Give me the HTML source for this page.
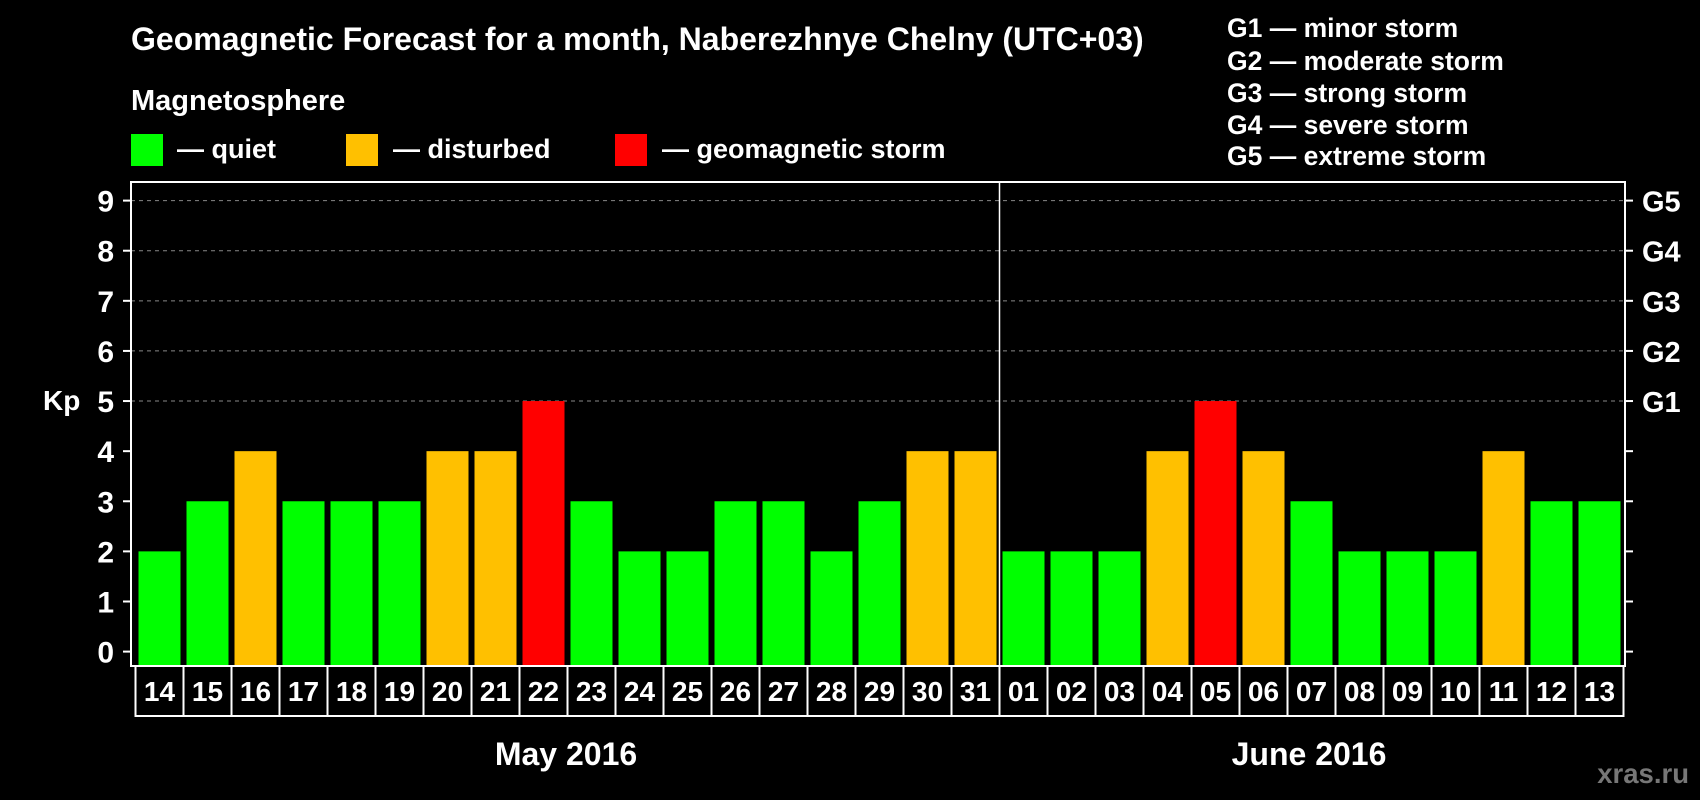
<!DOCTYPE html>
<html><head><meta charset="utf-8"><style>
html,body{margin:0;padding:0;background:#000;}
svg{display:block;font-family:"Liberation Sans",Arial,sans-serif;font-weight:bold;}
</style></head><body>
<svg id="chart" width="1700" height="800" viewBox="0 0 1700 800">
<rect x="0" y="0" width="1700" height="800" fill="#000"/>
<text x="131" y="50" fill="#fff" font-size="32">Geomagnetic Forecast for a month, Naberezhnye Chelny (UTC+03)</text>
<text x="131" y="110" fill="#fff" font-size="29">Magnetosphere</text>
<g>
<rect x="131" y="134" width="32" height="32" fill="#00ff00"/>
<text x="177" y="158" fill="#fff" font-size="27">— quiet</text></g>
<g>
<rect x="346" y="134" width="32" height="32" fill="#ffc000"/>
<text x="393" y="158" fill="#fff" font-size="27">— disturbed</text></g>
<g>
<rect x="615" y="134" width="32" height="32" fill="#ff0000"/>
<text x="662" y="158" fill="#fff" font-size="27">— geomagnetic storm</text></g>
<g fill="#fff" font-size="26.5">
<text x="1227" y="37">G1 — minor storm</text>
<text x="1227" y="70">G2 — moderate storm</text>
<text x="1227" y="102">G3 — strong storm</text>
<text x="1227" y="134">G4 — severe storm</text>
<text x="1227" y="165">G5 — extreme storm</text>
</g>
<text x="43" y="410" fill="#fff" font-size="28">Kp</text>
<g id="grid"></g>
<g id="bars"></g>
<g id="axes"></g>
<text x="566" y="765" fill="#fff" font-size="32" text-anchor="middle">May 2016</text>
<text x="1309" y="765" fill="#fff" font-size="32" text-anchor="middle">June 2016</text>
<text x="1689" y="783" fill="#777" font-size="27.5" text-anchor="end">xras.ru</text>
</svg>
<script>
const days = ["14","15","16","17","18","19","20","21","22","23","24","25","26","27","28","29","30","31","01","02","03","04","05","06","07","08","09","10","11","12","13"];
const kpValues = [2,3,4,3,3,3,4,4,5,3,2,2,3,3,2,3,4,4,2,2,2,4,5,4,3,2,2,2,4,3,3];
const yTicks = [0,1,2,3,4,5,6,7,8,9];
const gLabels = ["G1","G2","G3","G4","G5"];
const gLevels = [5,6,7,8,9];
const monthSplitIndex = 18;

const NS="http://www.w3.org/2000/svg";
const L=131,R=1625,T=182,B=666,cellX0=135.5,cellW=48;
const y=v=>651.6-v*(451/9);
const x=i=>cellX0+i*cellW;
function mk(tag,attrs,parent){const e=document.createElementNS(NS,tag);for(const k in attrs)e.setAttribute(k,attrs[k]);parent.appendChild(e);return e;}
const grid=document.getElementById('grid'),bars=document.getElementById('bars'),axes=document.getElementById('axes');
gLevels.forEach((v,i)=>{
 const ln=mk('line',{x1:L,x2:R,y1:y(v),y2:y(v),stroke:'#888','stroke-width':1,'stroke-dasharray':'4,4'},grid);
 
 
});
kpValues.forEach((v,i)=>{
 const c=v>=5?'#ff0000':(v>=4?'#ffc000':'#00ff00');
 const r=mk('rect',{x:x(i)+3,y:y(v),width:42,height:B-1-y(v),fill:c},bars);
 
 
 const cell=mk('rect',{x:x(i),y:B,width:cellW,height:50,fill:'none',stroke:'#fff','stroke-width':2},axes);
 
 
 const t=mk('text',{x:x(i)+cellW/2,y:B+35,fill:'#fff','font-size':28,'text-anchor':'middle'},axes);
 t.textContent=days[i];
 
 
});
const frame=mk('rect',{x:L,y:T,width:R-L,height:B-T,fill:'none',stroke:'#fff','stroke-width':2},axes);


const sep=mk('line',{x1:x(monthSplitIndex),x2:x(monthSplitIndex),y1:T,y2:B,stroke:'#fff','stroke-width':1.5},axes);


yTicks.forEach(v=>{
 const tk=mk('line',{x1:L-8,x2:L,y1:y(v),y2:y(v),stroke:'#fff','stroke-width':2},axes);
 
 
 const tr=mk('line',{x1:R,x2:R+8,y1:y(v),y2:y(v),stroke:'#fff','stroke-width':2},axes);
 
 
 const t=mk('text',{x:114,y:y(v)+11,fill:'#fff','font-size':30,'text-anchor':'end'},axes);
 t.textContent=v;
 
 
});
gLevels.forEach((v,i)=>{
 const t=mk('text',{x:1642,y:y(v)+11,fill:'#fff','font-size':29},axes);
 t.textContent=gLabels[i];
 
 
});
</script>
</body></html>
